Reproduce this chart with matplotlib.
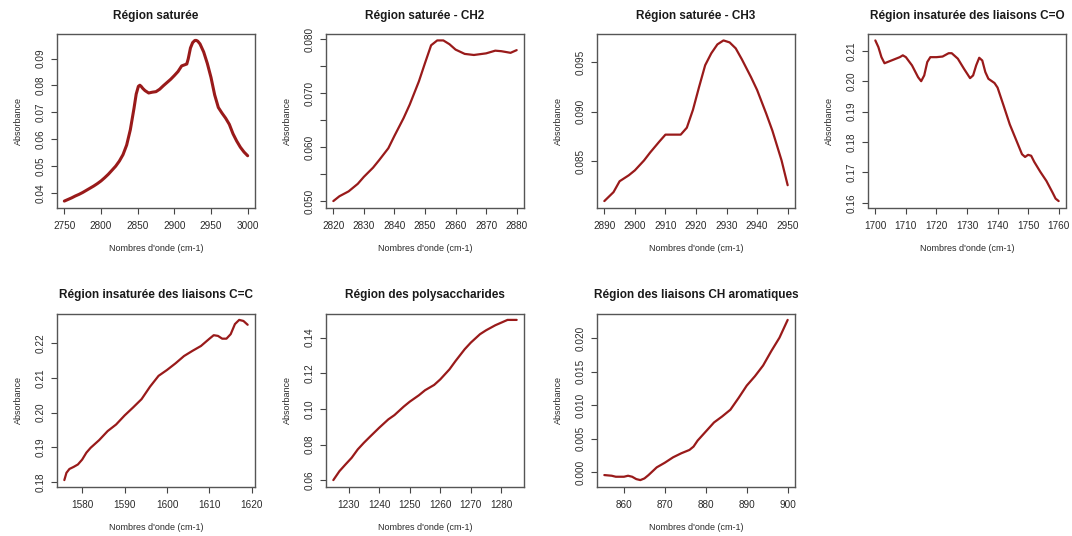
import matplotlib
matplotlib.use("Agg")
import matplotlib.pyplot as plt

plt.rcParams['font.family'] = ['Liberation Sans', 'DejaVu Sans']

# ---- Spectra, one region per panel (wavenumber, absorbance) ----
sat_x = [2750, 2755, 2760, 2765, 2770, 2775, 2780, 2785, 2790, 2795, 2800,
         2805, 2810, 2815, 2820, 2825, 2830, 2835, 2840, 2845, 2848, 2851,
         2853, 2855, 2857, 2860, 2865, 2870, 2875, 2880, 2885, 2890, 2895,
         2900, 2905, 2910, 2915, 2917, 2919, 2922, 2925, 2928, 2930, 2932,
         2935, 2940, 2945, 2950, 2955, 2960, 2965, 2970, 2975, 2980, 2985,
         2990, 2995, 3000]
sat_y = [0.0369, 0.0375, 0.0381, 0.0388, 0.0394, 0.0401, 0.0409, 0.0417,
         0.0425, 0.0434, 0.0444, 0.0456, 0.0469, 0.0484, 0.0499, 0.0518,
         0.0542, 0.0578, 0.0635, 0.0715, 0.0768, 0.0797, 0.0801, 0.0796,
         0.0789, 0.0781, 0.0772, 0.0775, 0.0777, 0.0786, 0.0799, 0.0811,
         0.0823, 0.0837, 0.0852, 0.0873, 0.0878, 0.0880, 0.0900, 0.0940,
         0.0960, 0.0968, 0.0968, 0.0965, 0.0955, 0.0925, 0.0882, 0.0830,
         0.0765, 0.0718, 0.0697, 0.0678, 0.0655, 0.0620, 0.0593, 0.0570,
         0.0552, 0.0538]

ch2_x = [2820, 2822, 2825, 2828, 2830, 2833, 2835, 2838, 2840, 2843, 2845,
         2848, 2850, 2852, 2854, 2856, 2858, 2860, 2863, 2866, 2870, 2873,
         2875, 2878, 2880]
ch2_y = [0.0500, 0.0509, 0.0518, 0.0532, 0.0545, 0.0562, 0.0576, 0.0598,
         0.0621, 0.0654, 0.0679, 0.0722, 0.0756, 0.0789, 0.0798, 0.0798,
         0.0791, 0.0781, 0.0773, 0.0771, 0.0774, 0.0779, 0.0778, 0.0775,
         0.0780]

ch3_x = [2890, 2893, 2895, 2898, 2900, 2903, 2905, 2908, 2910, 2913, 2915,
         2917, 2919, 2921, 2923, 2925, 2927, 2929, 2931, 2933, 2935, 2938,
         2940, 2943, 2945, 2948, 2950]
ch3_y = [0.0810, 0.0819, 0.0830, 0.0836, 0.0841, 0.0851, 0.0859, 0.0870,
         0.0877, 0.0877, 0.0877, 0.0884, 0.0902, 0.0925, 0.0947, 0.0959,
         0.0968, 0.0972, 0.0970, 0.0964, 0.0953, 0.0935, 0.0922, 0.0898,
         0.0881, 0.0851, 0.0826]

co_x = [1700, 1701, 1702, 1703, 1704, 1706, 1708, 1709, 1710, 1712, 1714,
        1715, 1716, 1717, 1718, 1720, 1722, 1724, 1725, 1727, 1729, 1731,
        1732, 1733, 1734, 1735, 1736, 1737, 1739, 1740, 1742, 1744, 1746,
        1748, 1749, 1750, 1751, 1752, 1754, 1756, 1758, 1759, 1760]
co_y = [0.2134, 0.2112, 0.2079, 0.2059, 0.2063, 0.2071, 0.2079, 0.2085,
        0.2079, 0.2052, 0.2013, 0.2000, 0.2019, 0.2063, 0.2079, 0.2079,
        0.2081, 0.2092, 0.2092, 0.2074, 0.2041, 0.2010, 0.2019, 0.2052,
        0.2077, 0.2068, 0.2030, 0.2008, 0.1994, 0.1979, 0.1919, 0.1858,
        0.1809, 0.1760, 0.1751, 0.1758, 0.1755, 0.1735, 0.1702, 0.1672,
        0.1634, 0.1614, 0.1606]

cc_x = [1575.8, 1576.3, 1577, 1578, 1579, 1580, 1581, 1582, 1584, 1586,
        1588, 1590, 1592, 1594, 1596, 1598, 1600, 1602, 1604, 1606, 1608,
        1610, 1611, 1612, 1613, 1614, 1615, 1616, 1617, 1618, 1619]
cc_y = [0.1806, 0.1827, 0.1838, 0.1844, 0.1851, 0.1865, 0.1885, 0.1899,
        0.1921, 0.1947, 0.1966, 0.1992, 0.2015, 0.2039, 0.2075, 0.2106,
        0.2123, 0.2142, 0.2163, 0.2178, 0.2192, 0.2213, 0.2223, 0.2221,
        0.2213, 0.2213, 0.2226, 0.2255, 0.2267, 0.2264, 0.2253]

poly_x = [1225, 1227, 1229, 1231, 1233, 1235, 1237, 1240, 1243, 1245, 1248,
          1250, 1253, 1255, 1258, 1260, 1263, 1265, 1268, 1270, 1273, 1275,
          1278, 1280, 1282, 1285]
poly_y = [0.0602, 0.0652, 0.0690, 0.0727, 0.0774, 0.0811, 0.0845, 0.0895,
          0.0942, 0.0966, 0.1013, 0.1041, 0.1077, 0.1105, 0.1135, 0.1166,
          0.1222, 0.1269, 0.1335, 0.1372, 0.1419, 0.1441, 0.1469, 0.1484,
          0.1499, 0.1499]

aro_x = [855.2, 857, 858, 860, 861, 862, 863, 864, 865, 866, 868, 870, 872,
         874, 876, 877, 878, 880, 882, 884, 886, 888, 890, 892, 894, 896,
         898, 900]
aro_y = [-0.0004, -0.0005, -0.00065, -0.00065, -0.0005, -0.00065, -0.0010,
         -0.00115, -0.0009, -0.0004, 0.00075, 0.00145, 0.00225, 0.00285,
         0.00335, 0.00385, 0.00475, 0.0061, 0.00745, 0.00835, 0.00935,
         0.0111, 0.01295, 0.01435, 0.01595, 0.0181, 0.0201, 0.02275]

# ---- Panel titles and axis ticks ----
titles = ["Région saturée", "Région saturée - CH2", "Région saturée - CH3",
          "Région insaturée des liaisons C=O",
          "Région insaturée des liaisons C=C", "Région des polysaccharides",
          "Région des liaisons CH aromatiques"]

x_ticks = [[2750, 2800, 2850, 2900, 2950, 3000],
           [2820, 2830, 2840, 2850, 2860, 2870, 2880],
           [2890, 2900, 2910, 2920, 2930, 2940, 2950],
           [1700, 1710, 1720, 1730, 1740, 1750, 1760],
           [1580, 1590, 1600, 1610, 1620],
           [1230, 1240, 1250, 1260, 1270, 1280],
           [860, 870, 880, 890, 900]]

y_ticks = [[0.04, 0.05, 0.06, 0.07, 0.08, 0.09],
           [0.050, 0.055, 0.060, 0.065, 0.070, 0.075, 0.080],
           [0.085, 0.090, 0.095],
           [0.16, 0.17, 0.18, 0.19, 0.20, 0.21],
           [0.18, 0.19, 0.20, 0.21, 0.22],
           [0.06, 0.08, 0.10, 0.12, 0.14],
           [0.000, 0.005, 0.010, 0.015, 0.020]]

y_labels = [["0.04", "0.05", "0.06", "0.07", "0.08", "0.09"],
            ["0.050", "", "0.060", "", "0.070", "", "0.080"],
            ["0.085", "0.090", "0.095"],
            ["0.16", "0.17", "0.18", "0.19", "0.20", "0.21"],
            ["0.18", "0.19", "0.20", "0.21", "0.22"],
            ["0.06", "0.08", "0.10", "0.12", "0.14"],
            ["0.000", "0.005", "0.010", "0.015", "0.020"]]

series = [(sat_x, sat_y), (ch2_x, ch2_y), (ch3_x, ch3_y), (co_x, co_y),
          (cc_x, cc_y), (poly_x, poly_y), (aro_x, aro_y)]

LINE = "#991a1a"
TXT = "#2b2b2b"

W, H = 1072, 536
fig = plt.figure(figsize=(W / 100, H / 100), dpi=100)
fig.patch.set_facecolor("white")

lefts = [57, 326, 597, 868]
width = 198
rows = [(34, 207.5), (313.5, 486.5)]

for i, ((xs, ys), title) in enumerate(zip(series, titles)):
    r, c = divmod(i, 4)
    top, bot = rows[r]
    ax = fig.add_axes([lefts[c] / W, 1 - bot / H, width / W, (bot - top) / H])
    ax.plot(xs, ys, color=LINE, lw=2.2 if i == 0 else 1.6,
            solid_capstyle="round", solid_joinstyle="round")
    ax.margins(0.04)
    ax.set_xticks(x_ticks[i])
    ax.set_xticklabels([str(v) for v in x_ticks[i]])
    ax.set_yticks(y_ticks[i])
    ax.set_yticklabels(y_labels[i], rotation=90, va="center")
    ax.tick_params(direction="out", length=4, width=0.8, colors="#444444",
                   labelsize=7.2, labelcolor=TXT)
    ax.tick_params(axis="x", pad=6)
    ax.tick_params(axis="y", pad=4.5)
    for s in ax.spines.values():
        s.set_linewidth(1.0)
        s.set_color("#555555")
    ax.set_title(title, fontsize=8.5, fontweight="bold", color="#1a1a1a",
                 pad=11)
    ax.set_xlabel("Nombres d'onde (cm-1)", fontsize=6.5, color=TXT,
                  labelpad=9)
    ax.set_ylabel("Absorbance", fontsize=6.5, color=TXT, labelpad=9)

fig.savefig("out.png", dpi=100, facecolor="white")
